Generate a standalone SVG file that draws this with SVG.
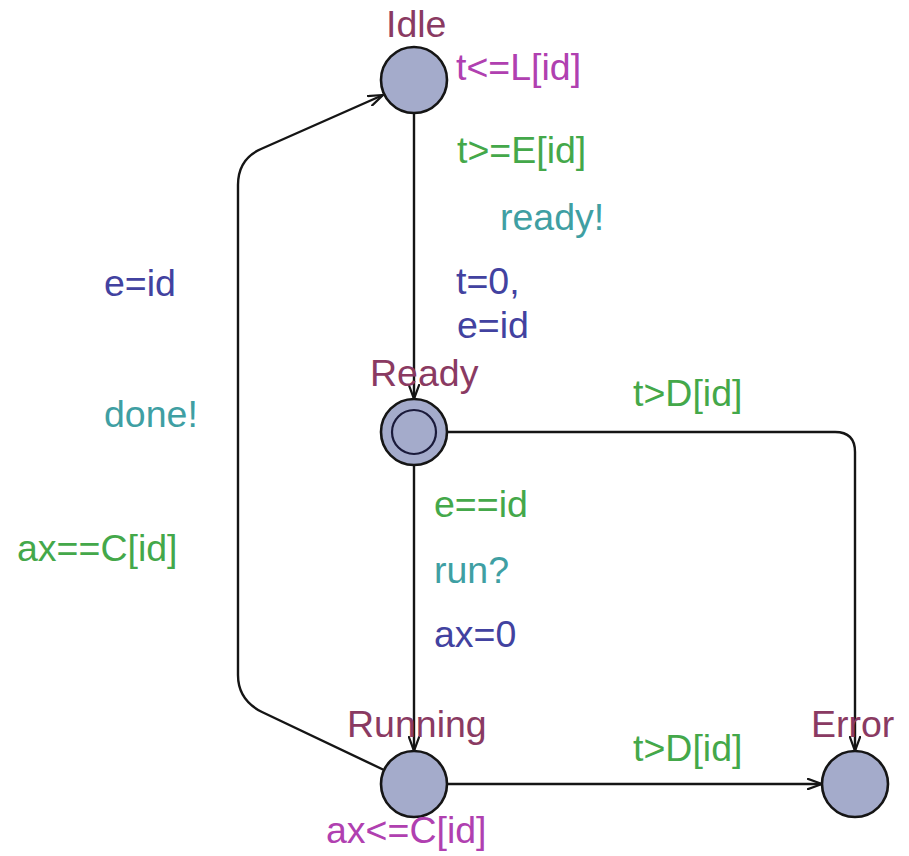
<svg xmlns="http://www.w3.org/2000/svg" width="909" height="856" viewBox="0 0 909 856">
<style>
text{font-family:"Liberation Sans",Arial,sans-serif;font-size:37.5px}
.name{fill:#8a3a62}
.inv{fill:#b040b0}
.guard{fill:#44a84a}
.sync{fill:#3f9fa3}
.asg{fill:#4242a0}
.loc{fill:#a4abcb;stroke:#151515;stroke-width:2.6}
.edge{fill:none;stroke:#151515;stroke-width:2.4}
</style>
<defs>
<marker id="arr" viewBox="0 0 16 12" refX="15" refY="6" markerWidth="16" markerHeight="12" markerUnits="userSpaceOnUse" orient="auto">
<path d="M0,0.5 L15,6 L0,11.5" fill="none" stroke="#151515" stroke-width="2.2"/>
</marker>
</defs>
<rect width="909" height="856" fill="#ffffff"/>
<g id="connectors">
<path class="edge" d="M414,113 L414,399" marker-end="url(#arr)"/>
<path class="edge" d="M414,465 L414,751" marker-end="url(#arr)"/>
<path class="edge" d="M447,432 L835,432 Q855,432 855,452 L855,751" marker-end="url(#arr)"/>
<path class="edge" d="M447,784 L822,784" marker-end="url(#arr)"/>
<path class="edge" d="M384,770 L262,712 Q238,700 238,675 L238,185 Q238,159 261,149 L383,95" marker-end="url(#arr)"/>
<text class="guard" x="457" y="163">t&gt;=E[id]</text>
<text class="sync" x="500" y="230">ready!</text>
<text class="asg" x="456" y="294">t=0,</text>
<text class="asg" x="457" y="338">e=id</text>
<text class="asg" x="104" y="296">e=id</text>
<text class="sync" x="104" y="427">done!</text>
<text class="guard" x="17" y="561">ax==C[id]</text>
<text class="guard" x="434" y="517">e==id</text>
<text class="sync" x="434" y="583">run?</text>
<text class="asg" x="434" y="647">ax=0</text>
<text class="guard" x="633" y="406">t&gt;D[id]</text>
<text class="guard" x="633" y="761">t&gt;D[id]</text>
</g>
<g id="Idle">
<circle class="loc" cx="414" cy="80" r="33"/>
<text class="name" x="386" y="37">Idle</text>
<text class="inv" x="456" y="80">t&lt;=L[id]</text>
</g>
<g id="Ready">
<circle class="loc" cx="414" cy="432" r="33"/>
<circle cx="414" cy="432" r="22" fill="none" stroke="#1a1a3a" stroke-width="2.2"/>
<text class="name" x="370" y="386">Ready</text>
</g>
<g id="Running">
<circle class="loc" cx="414" cy="784" r="33"/>
<text class="name" x="347" y="737">Running</text>
<text class="inv" x="326" y="843">ax&lt;=C[id]</text>
</g>
<g id="Error">
<circle class="loc" cx="855" cy="784" r="33"/>
<text class="name" x="811" y="737">Error</text>
</g>
</svg>
